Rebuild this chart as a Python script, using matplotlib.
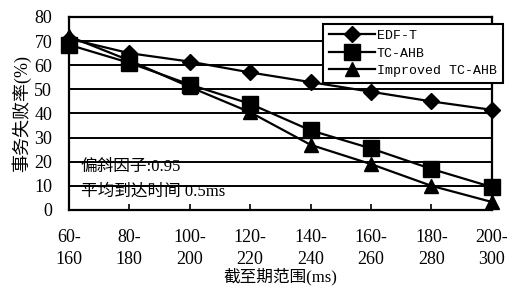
import matplotlib.pyplot as plt

plt.rcParams['font.family'] = ['Liberation Serif', 'Noto Sans CJK SC']

categories = ['60-\n160', '80-\n180', '100-\n200', '120-\n220',
              '140-\n240', '160-\n260', '180-\n280', '200-\n300']
edf_t = [71, 65, 61.5, 57, 53, 49, 45, 41.5]
tc_ahb = [68.5, 61, 52, 44, 33, 25.5, 17, 9.5]
improved = [72, 62, 51, 40.5, 27, 19, 10, 3.3]

fig = plt.figure(figsize=(5.14, 2.88), dpi=100)
ax = fig.add_axes([0.134, 0.271, 0.823, 0.670])

x = range(len(categories))
ax.plot(x, edf_t, color='black', lw=1.6, marker='D', ms=8, clip_on=False, label='EDF-T', zorder=3)
ax.plot(x, tc_ahb, color='black', lw=1.6, marker='s', ms=12, clip_on=False, label='TC-AHB', zorder=3)
ax.plot(x, improved, color='black', lw=1.6, marker='^', ms=10, clip_on=False, label='Improved TC-AHB', zorder=3)

ax.set_xlim(0, len(categories) - 1)
ax.set_ylim(0, 80)
ax.set_yticks(range(0, 81, 10))
ax.set_xticks(list(x))
ax.set_xticklabels(categories, fontsize=13, linespacing=1.35)
ax.tick_params(axis='y', labelsize=13, length=0, pad=12)
ax.tick_params(axis='x', direction='in', length=4, width=1.2, pad=14)
ax.yaxis.grid(True, color='black', lw=1.4)
for s in ax.spines.values():
    s.set_linewidth(1.6)

ax.set_ylabel('事务失败率(%)', fontsize=13, labelpad=2)
fig.text(0.545, 0.04, '截至期范围(ms)', fontsize=12, ha='center', va='center')

ax.text(0.2, 21, '偏斜因子:0.95', fontsize=12, va='top')
ax.text(0.2, 11, '平均到达时间 0.5ms', fontsize=12, va='top')

leg = ax.legend(loc='upper right', bbox_to_anchor=(1.035, 0.985), fancybox=False,
                edgecolor='black', framealpha=1, prop={'family': 'Liberation Mono', 'size': 9.5},
                handlelength=3.5, handletextpad=0.1, borderpad=0.45, labelspacing=0.4,
                borderaxespad=0.3)
leg.get_frame().set_linewidth(1.5)

fig.savefig('out.png', dpi=100)
